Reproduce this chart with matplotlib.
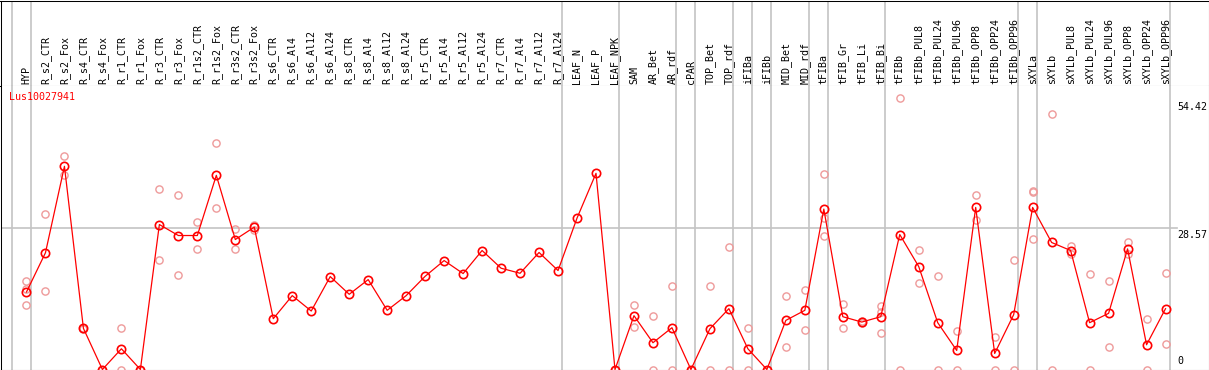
import matplotlib
matplotlib.use("Agg")
import matplotlib.pyplot as plt
import matplotlib.transforms as mtransforms


GENE = "Lus10027941"

samples = [
    "HYP", "R_s2_CTR", "R_s2_Fox", "R_s4_CTR", "R_s4_Fox", "R_r1_CTR", "R_r1_Fox",
    "R_r3_CTR", "R_r3_Fox", "R_r1s2_CTR", "R_r1s2_Fox", "R_r3s2_CTR", "R_r3s2_Fox",
    "R_s6_CTR", "R_s6_Al4", "R_s6_Al12", "R_s6_Al24", "R_s8_CTR", "R_s8_Al4",
    "R_s8_Al12", "R_s8_Al24", "R_r5_CTR", "R_r5_Al4", "R_r5_Al12", "R_r5_Al24",
    "R_r7_CTR", "R_r7_Al4", "R_r7_Al12", "R_r7_Al24", "LEAF_N", "LEAF_P", "LEAF_NPK",
    "SAM", "AR_Bet", "AR_rdf", "cPAR", "TOP_Bet", "TOP_rdf", "iFIBa", "iFIBb",
    "MID_Bet", "MID_rdf", "tFIBa", "tFIB_Gr", "tFIB_Li", "tFIB_Bi", "tFIBb",
    "tFIBb_PUL8", "tFIBb_PUL24", "tFIBb_PUL96", "tFIBb_OPP8", "tFIBb_OPP24",
    "tFIBb_OPP96", "sXYLa", "sXYLb", "sXYLb_PUL8", "sXYLb_PUL24", "sXYLb_PUL96",
    "sXYLb_OPP8", "sXYLb_OPP24", "sXYLb_OPP96",
]

mean_expr = [
    15.66, 23.6, 41.07, 8.31, 0, 4.19, 0, 29.3, 27.08, 27.08, 39.24, 26.27, 28.77,
    10.27, 14.93, 11.82, 18.78, 15.2, 18.17, 11.96, 14.93, 18.84, 22.02, 19.39, 24.05,
    20.47, 19.45, 23.65, 20.0, 30.6, 39.65, 0,
    10.88, 5.41, 8.45, 0, 8.24, 12.3, 4.19, 0, 9.93, 11.96,
    32.42, 10.67, 9.59, 10.67, 27.28,
    20.8, 9.46, 3.85, 32.76, 3.24, 11.08,
    32.76, 25.67, 24.05, 9.46, 11.35, 24.38, 5.0, 12.3,
]

replicates = [
    [17.8, 16.2, 13.0], [31.35, 15.8], [43.16, 39.24], [8.45, 8.2], [0], [8.45, 0], [0],
    [36.4, 22.2], [35.2, 19.19], [29.72, 24.45], [45.7, 32.56], [28.3, 24.45], [29.3, 28.2],
    [], [], [], [], [], [], [], [], [], [], [], [], [], [], [], [], [], [], [0],
    [12.97, 8.65], [10.88, 0], [16.96, 0], [0], [16.82, 0], [24.72, 0], [8.45, 0], [0],
    [14.93, 4.6], [16.15, 7.9],
    [39.45, 30.54, 26.9], [13.31, 8.45], [9.9, 9.3], [12.77, 11.6, 7.44], [54.85, 0],
    [24.25, 17.43], [18.98, 0], [7.7, 0], [35.2, 30.26], [6.62, 0], [22.2, 0],
    [36.1, 35.8, 26.3], [51.6, 0], [24.86, 23.37], [19.25, 0], [17.83, 4.6],
    [25.73, 23.44], [10.27, 0], [19.45, 5.2],
]

# group separators: a line is drawn after these sample indices
separator_after = [-1, 0, 28, 31, 34, 35, 37, 38, 39, 41, 42, 45, 52, 53, 60]

y_ticks = [0, 28.57, 54.42]
y_tick_labels = ["0", "28.57", "54.42"]

W, H = 1209, 370
FONT = "DejaVu Sans Mono"
GRID = "#c4c4c4"
RED = "#ff0000"
PINK = "#ee9a9a"


def main():
    fig = plt.figure(figsize=(W / 100, H / 100), dpi=100)

    x0 = -26 / 19
    x1 = (W - 26) / 19
    xs = list(range(len(samples)))

    # header with rotated sample names
    hx = fig.add_axes([0.5 / W, (H - 85.5) / H, (W - 1) / W, 85 / H])
    hx.set_xlim(x0, x1)
    hx.set_ylim(0, 1)
    hx.set_xticks([])
    hx.set_yticks([])
    for sp in hx.spines.values():
        sp.set_linewidth(0.75)
        sp.set_color("black")
    for i, name in enumerate(samples):
        hx.text(i, 2 / 85, name, rotation=90, ha="center", va="bottom",
                fontsize=7.2, family=FONT, color="black")

    ax = fig.add_axes([0.5 / W, 0.5 / H, (W - 1) / W, 284 / H])
    ax.set_xlim(x0, x1)
    ax.set_ylim(0, 57.4)
    ax.set_xticks([])
    ax.set_yticks([])
    ax.spines["top"].set_visible(False)
    for name in ["left", "right", "bottom"]:
        ax.spines[name].set_linewidth(0.75)
        ax.spines[name].set_color("black")

    for k in separator_after:
        pos = k + 0.22
        ax.axvline(pos, color=GRID, lw=1.2, zorder=1)
        hx.axvline(pos, color=GRID, lw=1.2, zorder=1)

    ax.axhline(y_ticks[1], xmin=0, xmax=1177 / W, color=GRID, lw=1.2, zorder=1)

    # replicate values
    rx = []
    ry = []
    for i, reps in enumerate(replicates):
        for v in reps:
            rx.append(i)
            ry.append(v)
    ax.plot(rx, ry, linestyle="none", marker="o", markersize=5.2,
            markerfacecolor="none", markeredgecolor=PINK, markeredgewidth=1.0, zorder=2)

    ax.plot(xs, mean_expr, color=RED, lw=0.9, zorder=3)
    ax.plot(xs, mean_expr, linestyle="none", marker="o", markersize=6.0,
            markerfacecolor="none", markeredgecolor=RED, markeredgewidth=1.2, zorder=4)

    # right side value labels
    xl = (1178 - 26) / 19
    down = mtransforms.offset_copy(ax.transData, fig=fig, x=0, y=-2, units="dots")
    up = mtransforms.offset_copy(ax.transData, fig=fig, x=0, y=3, units="dots")
    for v, lab in zip(y_ticks, y_tick_labels):
        if v == 0:
            ax.text(xl, v, lab, transform=up, ha="left", va="bottom",
                    fontsize=7.2, family=FONT, color="black", clip_on=False)
        else:
            ax.text(xl, v, lab, transform=down, ha="left", va="top",
                    fontsize=7.2, family=FONT, color="black", clip_on=False)

    fig.text(9.5 / W, 1 - 92 / H, GENE, ha="left", va="top",
             fontsize=7.2, family=FONT, color=RED)

    fig.savefig("out.png", dpi=100)


if __name__ == "__main__":
    main()
